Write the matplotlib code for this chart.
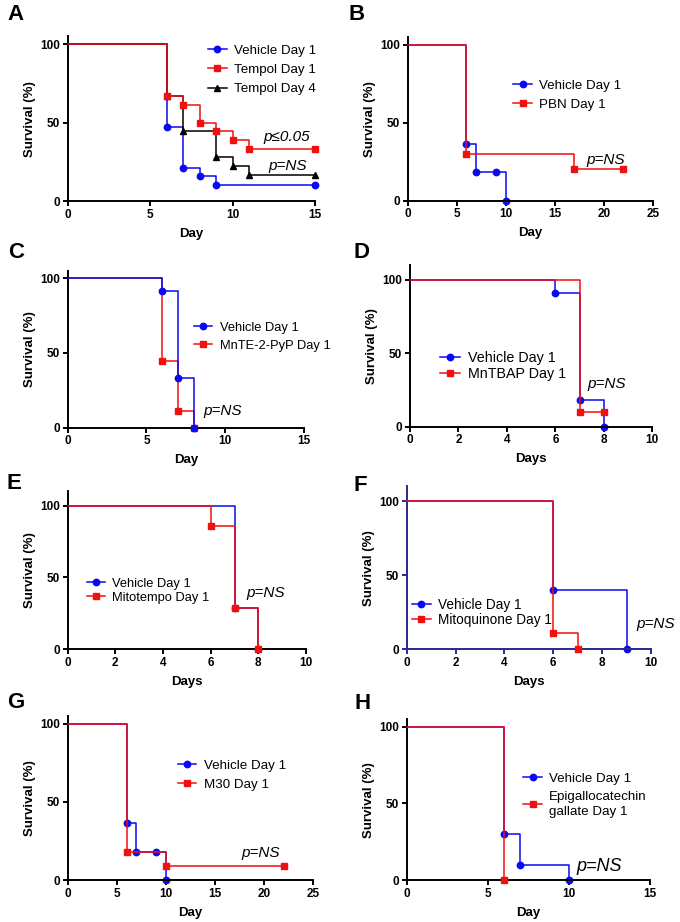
import matplotlib.pyplot as plt
from matplotlib.lines import Line2D

plt.rcParams['font.family'] = ['Liberation Sans', 'DejaVu Sans']

BLUE = '#0a0af0'
RED = '#f01010'
BLACK = '#000000'

# ---- data (survival %, Kaplan-Meier steps) ----
# A
a_veh_t = [0, 6, 7, 8, 9, 15]
a_veh_s = [100, 47.4, 21.1, 15.8, 10.5, 10.5]
a_tem1_t = [0, 6, 7, 8, 9, 10, 11, 15]
a_tem1_s = [100, 66.7, 61.1, 50.0, 44.4, 38.9, 33.3, 33.3]
a_tem4_t = [0, 6, 7, 9, 10, 11, 15]
a_tem4_s = [100, 66.7, 44.4, 27.8, 22.2, 16.7, 16.7]
# B
b_veh_t = [0, 6, 7, 9, 10]
b_veh_s = [100, 36.4, 18.2, 18.2, 0]
b_pbn_t = [0, 6, 17, 22]
b_pbn_s = [100, 30, 20, 20]
# C
c_veh_t = [0, 6, 7, 8]
c_veh_s = [100, 91.7, 33.3, 0]
c_mnte_t = [0, 6, 7, 8]
c_mnte_s = [100, 44.4, 11.1, 0]
# D
d_veh_t = [0, 6, 7, 8]
d_veh_s = [100, 90.9, 18.2, 0]
d_mntbap_t = [0, 7, 8]
d_mntbap_s = [100, 10, 10]
# E
e_veh_t = [0, 7, 8]
e_veh_s = [100, 28.6, 0]
e_mito_t = [0, 6, 7, 8]
e_mito_s = [100, 85.7, 28.6, 0]
# F
f_veh_t = [0, 6, 9]
f_veh_s = [100, 40, 0]
f_mq_t = [0, 6, 7]
f_mq_s = [100, 11.1, 0]
# G
g_veh_t = [0, 6, 7, 9, 10]
g_veh_s = [100, 36.4, 18.2, 18.2, 0]
g_m30_t = [0, 6, 10, 22]
g_m30_s = [100, 18.2, 9.1, 9.1]
# H
h_veh_t = [0, 6, 7, 10]
h_veh_s = [100, 30, 10, 0]
h_egcg_t = [0, 6]
h_egcg_s = [100, 0]

fig = plt.figure(figsize=(6.8, 9.22), dpi=100)

W, H = 680.0, 922.0


def rect(x0, x1, ytop, ybot):
    return [x0 / W, 1 - ybot / H, (x1 - x0) / W, (ybot - ytop) / H]


def panel(r, letter, lxy, xmax, xstep, ytop, xlabel, series, leg, ptxt,
          spine='black'):
    ax = fig.add_axes(r)
    handles = []
    for t, s, col, mk, ms, lab, z in series:
        ax.step(t, s, where='post', color=col, lw=1.1, zorder=z, clip_on=False)
        ax.plot(t[1:], s[1:], ls='none', marker=mk, ms=ms, color=col,
                zorder=z, clip_on=False)
        handles.append(Line2D([], [], color=col, lw=1.1, marker=mk,
                              ms=ms, label=lab))
    ax.set_xlim(0, xmax)
    ax.set_ylim(0, ytop)
    ax.set_xticks(range(0, xmax + 1, xstep))
    ax.set_yticks([0, 50, 100])
    for sp in ['top', 'right']:
        ax.spines[sp].set_visible(False)
    for sp in ['left', 'bottom']:
        ax.spines[sp].set_linewidth(1.4)
        ax.spines[sp].set_color(spine)
    ax.tick_params(direction='out', length=3.5, width=1.4, labelsize=8.5,
                   pad=2, color=spine)
    plt.setp(ax.get_xticklabels() + ax.get_yticklabels(), fontweight='bold')
    ax.set_xlabel(xlabel, fontsize=9.5, fontweight='bold', labelpad=5)
    ax.set_ylabel('Survival (%)', fontsize=9.5, fontweight='bold', labelpad=3)
    lx, ly, fs, lsp = leg
    lg = ax.legend(handles=handles, loc='upper left', bbox_to_anchor=(lx, ly),
                   frameon=False, fontsize=fs, borderpad=0, borderaxespad=0,
                   handlelength=1.4, handletextpad=0.55, labelspacing=lsp)
    for tx in lg.get_texts():
        tx.set_linespacing(1.35)
    for x, y, txt, fsz in ptxt:
        ax.text(x, y, txt, style='italic', fontsize=fsz, ha='left',
                va='center')
    fig.text(lxy[0] / W, 1 - lxy[1] / H, letter, fontsize=16,
             fontweight='bold', ha='left', va='center')
    return ax


panel(rect(67.7, 315, 36.2, 201), 'A', (7, 15), 15, 5, 105, 'Day',
      [(a_veh_t, a_veh_s, BLUE, 'o', 4.6, 'Vehicle Day 1', 2),
       (a_tem1_t, a_tem1_s, RED, 's', 5, 'Tempol Day 1', 4),
       (a_tem4_t, a_tem4_s, BLACK, '^', 4.6, 'Tempol Day 4', 3)],
      (0.567, 0.95, 9.6, 0.52),
      [(11.85, 41, 'p≤0.05', 11), (12.15, 22.5, 'p=NS', 11)])

panel(rect(407.7, 652.7, 36.9, 200.7), 'B', (348, 15), 25, 5, 105, 'Day',
      [(b_veh_t, b_veh_s, BLUE, 'o', 4.6, 'Vehicle Day 1', 2),
       (b_pbn_t, b_pbn_s, RED, 's', 5, 'PBN Day 1', 3)],
      (0.431, 0.74, 9.6, 0.5),
      [(18.27, 26.4, 'p=NS', 11)])

panel(rect(67.7, 304, 270.8, 427.7), 'C', (8, 252), 15, 5, 105, 'Day',
      [(c_veh_t, c_veh_s, BLUE, 'o', 4.6, 'Vehicle Day 1', 3),
       (c_mnte_t, c_mnte_s, RED, 's', 5, 'MnTE-2-PyP Day 1', 2)],
      (0.536, 0.675, 9.3, 0.47),
      [(8.61, 11.2, 'p=NS', 11)])

panel(rect(410, 652.3, 265.3, 426.7), 'D', (353, 253), 10, 2, 110, 'Days',
      [(d_veh_t, d_veh_s, BLUE, 'o', 4.6, 'Vehicle Day 1', 2),
       (d_mntbap_t, d_mntbap_s, RED, 's', 5, 'MnTBAP Day 1', 3)],
      (0.124, 0.47, 10.3, 0.12),
      [(7.32, 29.1, 'p=NS', 11)])

panel(rect(67.7, 306, 491.3, 649.3), 'E', (7, 483), 10, 2, 110, 'Days',
      [(e_veh_t, e_veh_s, BLUE, 'o', 4.6, 'Vehicle Day 1', 2),
       (e_mito_t, e_mito_s, RED, 's', 5, 'Mitotempo Day 1', 3)],
      (0.082, 0.452, 9.3, 0.15),
      [(7.51, 39.4, 'p=NS', 11)])

panel(rect(406.7, 651, 486.2, 649), 'F', (353, 485), 10, 2, 110, 'Days',
      [(f_veh_t, f_veh_s, BLUE, 'o', 4.6, 'Vehicle Day 1', 2),
       (f_mq_t, f_mq_s, RED, 's', 5, 'Mitoquinone Day 1', 3)],
      (0.02, 0.315, 9.8, 0.08),
      [(9.41, 16.7, 'p=NS', 11)], spine='#2a2a8c')

panel(rect(67.7, 313.3, 715.9, 880), 'G', (7, 702), 25, 5, 105, 'Day',
      [(g_veh_t, g_veh_s, BLUE, 'o', 4.6, 'Vehicle Day 1', 2),
       (g_m30_t, g_m30_s, RED, 's', 5, 'M30 Day 1', 3)],
      (0.448, 0.735, 9.6, 0.52),
      [(17.7, 17.1, 'p=NS', 11)])

panel(rect(406.7, 650, 719, 880.3), 'H', (355, 703), 15, 5, 105, 'Day',
      [(h_veh_t, h_veh_s, BLUE, 'o', 4.6, 'Vehicle Day 1', 2),
       (h_egcg_t, h_egcg_s, RED, 's', 5, 'Epigallocatechin\ngallate Day 1', 3)],
      (0.479, 0.667, 9.6, 0.45),
      [(10.44, 8.9, 'p=NS', 13)])

fig.savefig('out.png', dpi=100)
